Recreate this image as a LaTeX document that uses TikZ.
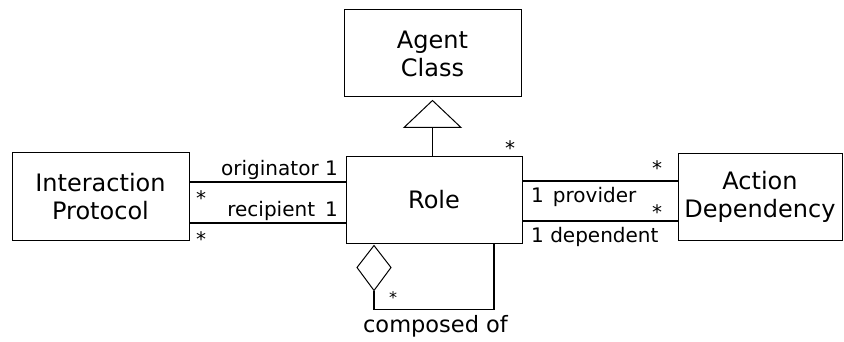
\documentclass[tikz,border=0pt]{standalone}
\usepackage{fontspec}
\setmainfont{DejaVu Sans}
\begin{document}
\begin{tikzpicture}[x=1pt,y=-1pt,
  cls/.style={draw, line width=1pt, minimum width=#1, minimum height=87pt,
    inner sep=0pt, align=center, font=\fontsize{24}{28}\selectfont},
  cls/.default=177pt,
  lbl/.style={inner sep=0pt, font=\fontsize{20}{22}\selectfont},
  conn/.style={line width=1.6pt},
  outline/.style={line width=1pt},
]
\useasboundingbox (0,0) rectangle (844,342);

% classes
\node[cls] (agent) at (432.5,53.5) {Agent\\Class};
\node[cls=176pt, minimum height=86pt] (role) at (434,200) {Role};
\node[cls] (proto) at (100.5,196.5) {Interaction\\Protocol};
\node[cls=164pt] (action) at (760,197) {Action\\Dependency};

% generalisation Role -> Agent Class
\coordinate (apex) at ([yshift=-3pt]agent.south);
\draw[outline] (apex) -- ++(28.5,27) -- ++(-57,0) -- cycle;
\coordinate (tribase) at ([yshift=-30pt]agent.south);
\draw[conn] (tribase) -- (tribase |- role.north);

% associations with Interaction Protocol
\coordinate (orig) at ([yshift=14.5pt]proto.east);
\coordinate (reci) at ([yshift=-26.5pt]proto.east);
\draw[conn] (orig) -- (orig -| role.west);
\draw[conn] (reci) -- (reci -| role.west);
\node[lbl, anchor=base east] (lorig) at (338,176) {originator 1};
\node[lbl, anchor=base east] (lreci) at (338,216) {recipient\hspace{0.5em}1};
\node[lbl, anchor=base] (s1) at (201,205) {*};
\node[lbl, anchor=base] (s2) at (201,247) {*};

% associations with Action Dependency
\coordinate (prov) at ([yshift=19pt]role.east);
\coordinate (depd) at ([yshift=-21pt]role.east);
\draw[conn] (prov) -- (prov -| action.west);
\draw[conn] (depd) -- (depd -| action.west);
\node[lbl, anchor=base west] (lprov) at (531,203) {1\hspace{0.45em}provider};
\node[lbl, anchor=base west] (ldepd) at (531,242) {1 dependent};
\node[lbl, anchor=base] (s3) at (657,176) {*};
\node[lbl, anchor=base] (s4) at (657,219) {*};
\node[lbl, anchor=base] (s5) at (510,156) {*};

% composition of roles
\coordinate (dtop) at ([xshift=-60pt,yshift=-2pt]role.south);
\draw[outline] (dtop) -- ++(17,22) -- ++(-17,23) -- ++(-17,-23) -- cycle;
\coordinate (dbot) at ([yshift=-45pt]dtop);
\draw[conn] (dbot) -- ++(0,19) -| ([xshift=60pt]role.south);
\node[lbl, anchor=base, font=\fontsize{16}{18}\selectfont] (s6) at (393,303) {*};
\node[lbl, anchor=base, font=\fontsize{22.5}{24}\selectfont] (lcomp) at (435.5,332) {composed of};
\end{tikzpicture}
\end{document}
